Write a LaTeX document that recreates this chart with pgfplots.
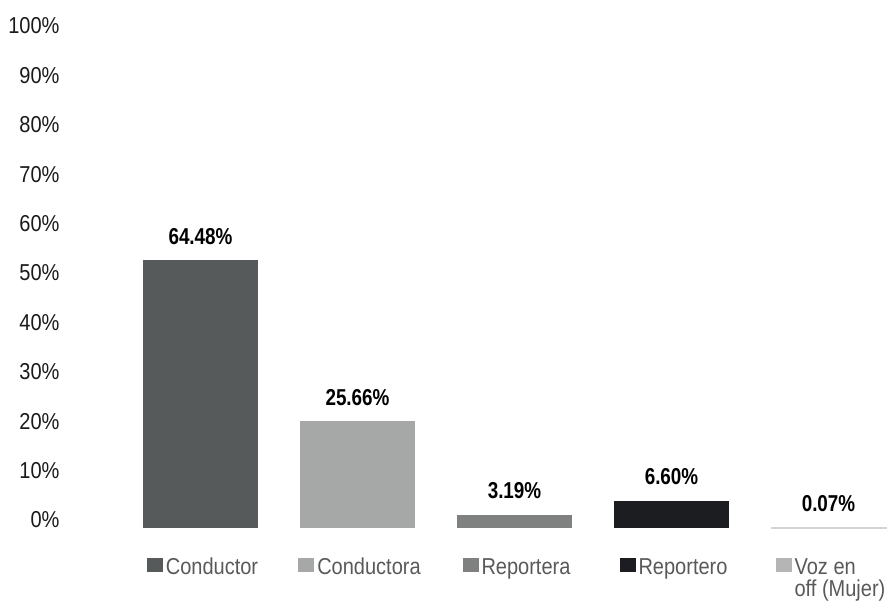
\documentclass[border=0pt]{standalone}
\usepackage{pgfplots}
\pgfplotsset{compat=1.18}
\usepackage{fontspec}
\setmainfont{Liberation Sans}[FakeStretch=0.87]
\newfontfamily\labfont{Liberation Sans}[FakeStretch=0.82]
\definecolor{cA}{HTML}{565A5B}
\definecolor{cB}{HTML}{A6A8A8}
\definecolor{cC}{HTML}{7F8181}
\definecolor{cD}{HTML}{1B1D20}
\definecolor{cE}{HTML}{B5B5B5}
\definecolor{cEline}{HTML}{D3D3D3}
\definecolor{legtext}{HTML}{595959}
\definecolor{ticktext}{HTML}{1A1A1A}
\newcommand{\sq}[1]{\textcolor{#1}{\rule[2pt]{16pt}{14pt}}\hspace{3pt}}
\begin{document}
\begin{tikzpicture}
\begin{axis}[
  scale only axis, width=766pt, height=528pt,
  xmin=-0.5, xmax=4.379, ymin=0, ymax=127.04,
  axis line style={draw=none}, major tick length=0pt,
  ytick={0,11.886,23.772,35.658,47.544,59.43,71.316,83.202,95.088,106.974,118.86},
  yticklabels={0\%,10\%,20\%,30\%,40\%,50\%,60\%,70\%,80\%,90\%,100\%},
  yticklabel style={font=\fontsize{23}{24}\selectfont, text=ticktext, anchor=east, xshift=-59pt, yshift=8pt},
  xtick={0,1,2,3,4},
  xticklabels={
    {\sq{cA}Conductor},
    {\sq{cB}Conductora},
    {\sq{cC}Reportera},
    {\sq{cD}Reportero},
    {\sq{cE}\begin{tabular}[t]{@{}l@{}}Voz en\\[-1.5pt]off (Mujer)\end{tabular}}},
  xticklabel style={font=\fontsize{23}{24}\selectfont, text=legtext, anchor=base, yshift=-46pt, xshift=2pt},
  ybar, bar width=0.7325, bar shift=0pt,
  point meta=y,
  nodes near coords={\pgfmathprintnumber[fixed,fixed zerofill,precision=2]{\pgfplotspointmeta}\%},
  every node near coord/.append style={font=\labfont\bfseries\fontsize{23}{24}\selectfont, text=black, yshift=12pt, /pgf/number format/assume math mode=true},
]
\addplot[fill=cA, draw=none] coordinates {(0,64.48)};
\addplot[fill=cB, draw=none] coordinates {(1,25.66)};
\addplot[fill=cC, draw=none] coordinates {(2,3.19)};
\addplot[fill=cD, draw=none] coordinates {(3,6.60)};
\addplot[fill=cE, draw=cEline, line width=1pt] coordinates {(4,0.07)};
\end{axis}
\pgfresetboundingbox
\path[use as bounding box] ([xshift=-122pt,yshift=-78pt]current axis.south west) rectangle (current axis.north east);
\end{tikzpicture}
\end{document}
